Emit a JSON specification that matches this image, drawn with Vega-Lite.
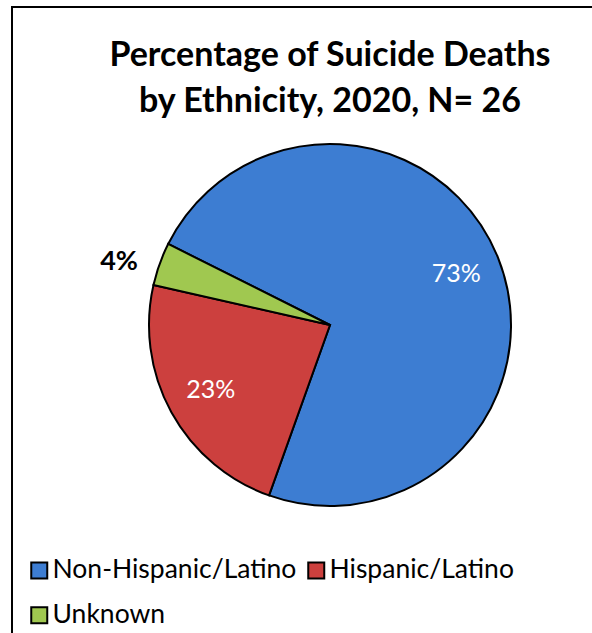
{
  "$schema": "https://vega.github.io/schema/vega-lite/v6.json",
  "autosize": {"type": "none"},
  "padding": {"left": 12, "top": 7, "right": 0, "bottom": 0},
  "width": 636,
  "height": 636,
  "background": "white",
  "view": {"stroke": "black", "strokeWidth": 2, "fill": "white"},
  "config": {
    "view": {"stroke": "black", "strokeWidth": 2},
    "font": "Lato"
  },
  "title": {
    "text": ["Percentage of Suicide Deaths", "by Ethnicity, 2020, N= 26"],
    "fontSize": 34,
    "font": "Lato",
    "fontWeight": "bold",
    "color": "black",
    "lineHeight": 46,
    "anchor": "middle",
    "offset": -112
  },
  "data": {
    "values": [
      {"ethnicity": "Non-Hispanic/Latino", "count": 19, "label": "73%"},
      {"ethnicity": "Hispanic/Latino", "count": 6, "label": "23%"},
      {"ethnicity": "Unknown", "count": 1, "label": "4%"}
    ]
  },
  "transform": [{"window": [{"op": "row_number", "as": "idx"}]}],
  "encoding": {
    "theta": {"field": "count", "type": "quantitative", "stack": true, "scale": {"range": [-1.1065, 5.1767]}},
    "order": {"field": "idx", "type": "quantitative"}
  },
  "layer": [
    {
      "mark": {"type": "arc", "outerRadius": 181, "stroke": "black", "strokeWidth": 2},
      "encoding": {
        "color": {
          "field": "ethnicity",
          "type": "nominal",
          "scale": {
            "domain": ["Non-Hispanic/Latino", "Hispanic/Latino", "Unknown"],
            "range": ["#3D7DD2", "#CC403E", "#A0C850"]
          },
          "legend": {
            "title": null,
            "orient": "bottom-left",
            "offset": 14,
            "padding": 0,
            "columns": 2,
            "direction": "horizontal",
            "symbolType": "square",
            "symbolSize": 256,
            "symbolStrokeColor": "black",
            "symbolStrokeWidth": 2,
            "symbolOpacity": 1,
            "labelFont": "Lato",
            "labelFontSize": 26.5,
            "labelColor": "black",
            "labelOffset": 0,
            "labelLimit": 400,
            "rowPadding": 18,
            "columnPadding": 6
          }
        }
      }
    },
    {
      "mark": {"type": "text", "radius": 136, "fontSize": 25, "color": "white", "font": "Lato"},
      "encoding": {
        "text": {"condition": {"test": "datum.count > 2", "field": "label"}, "value": ""}
      }
    },
    {
      "mark": {"type": "text", "radius": 224, "dy": 12, "fontSize": 27, "color": "black", "font": "Lato", "fontWeight": "bold"},
      "encoding": {
        "text": {"condition": {"test": "datum.count <= 2", "field": "label"}, "value": ""}
      }
    }
  ]
}
